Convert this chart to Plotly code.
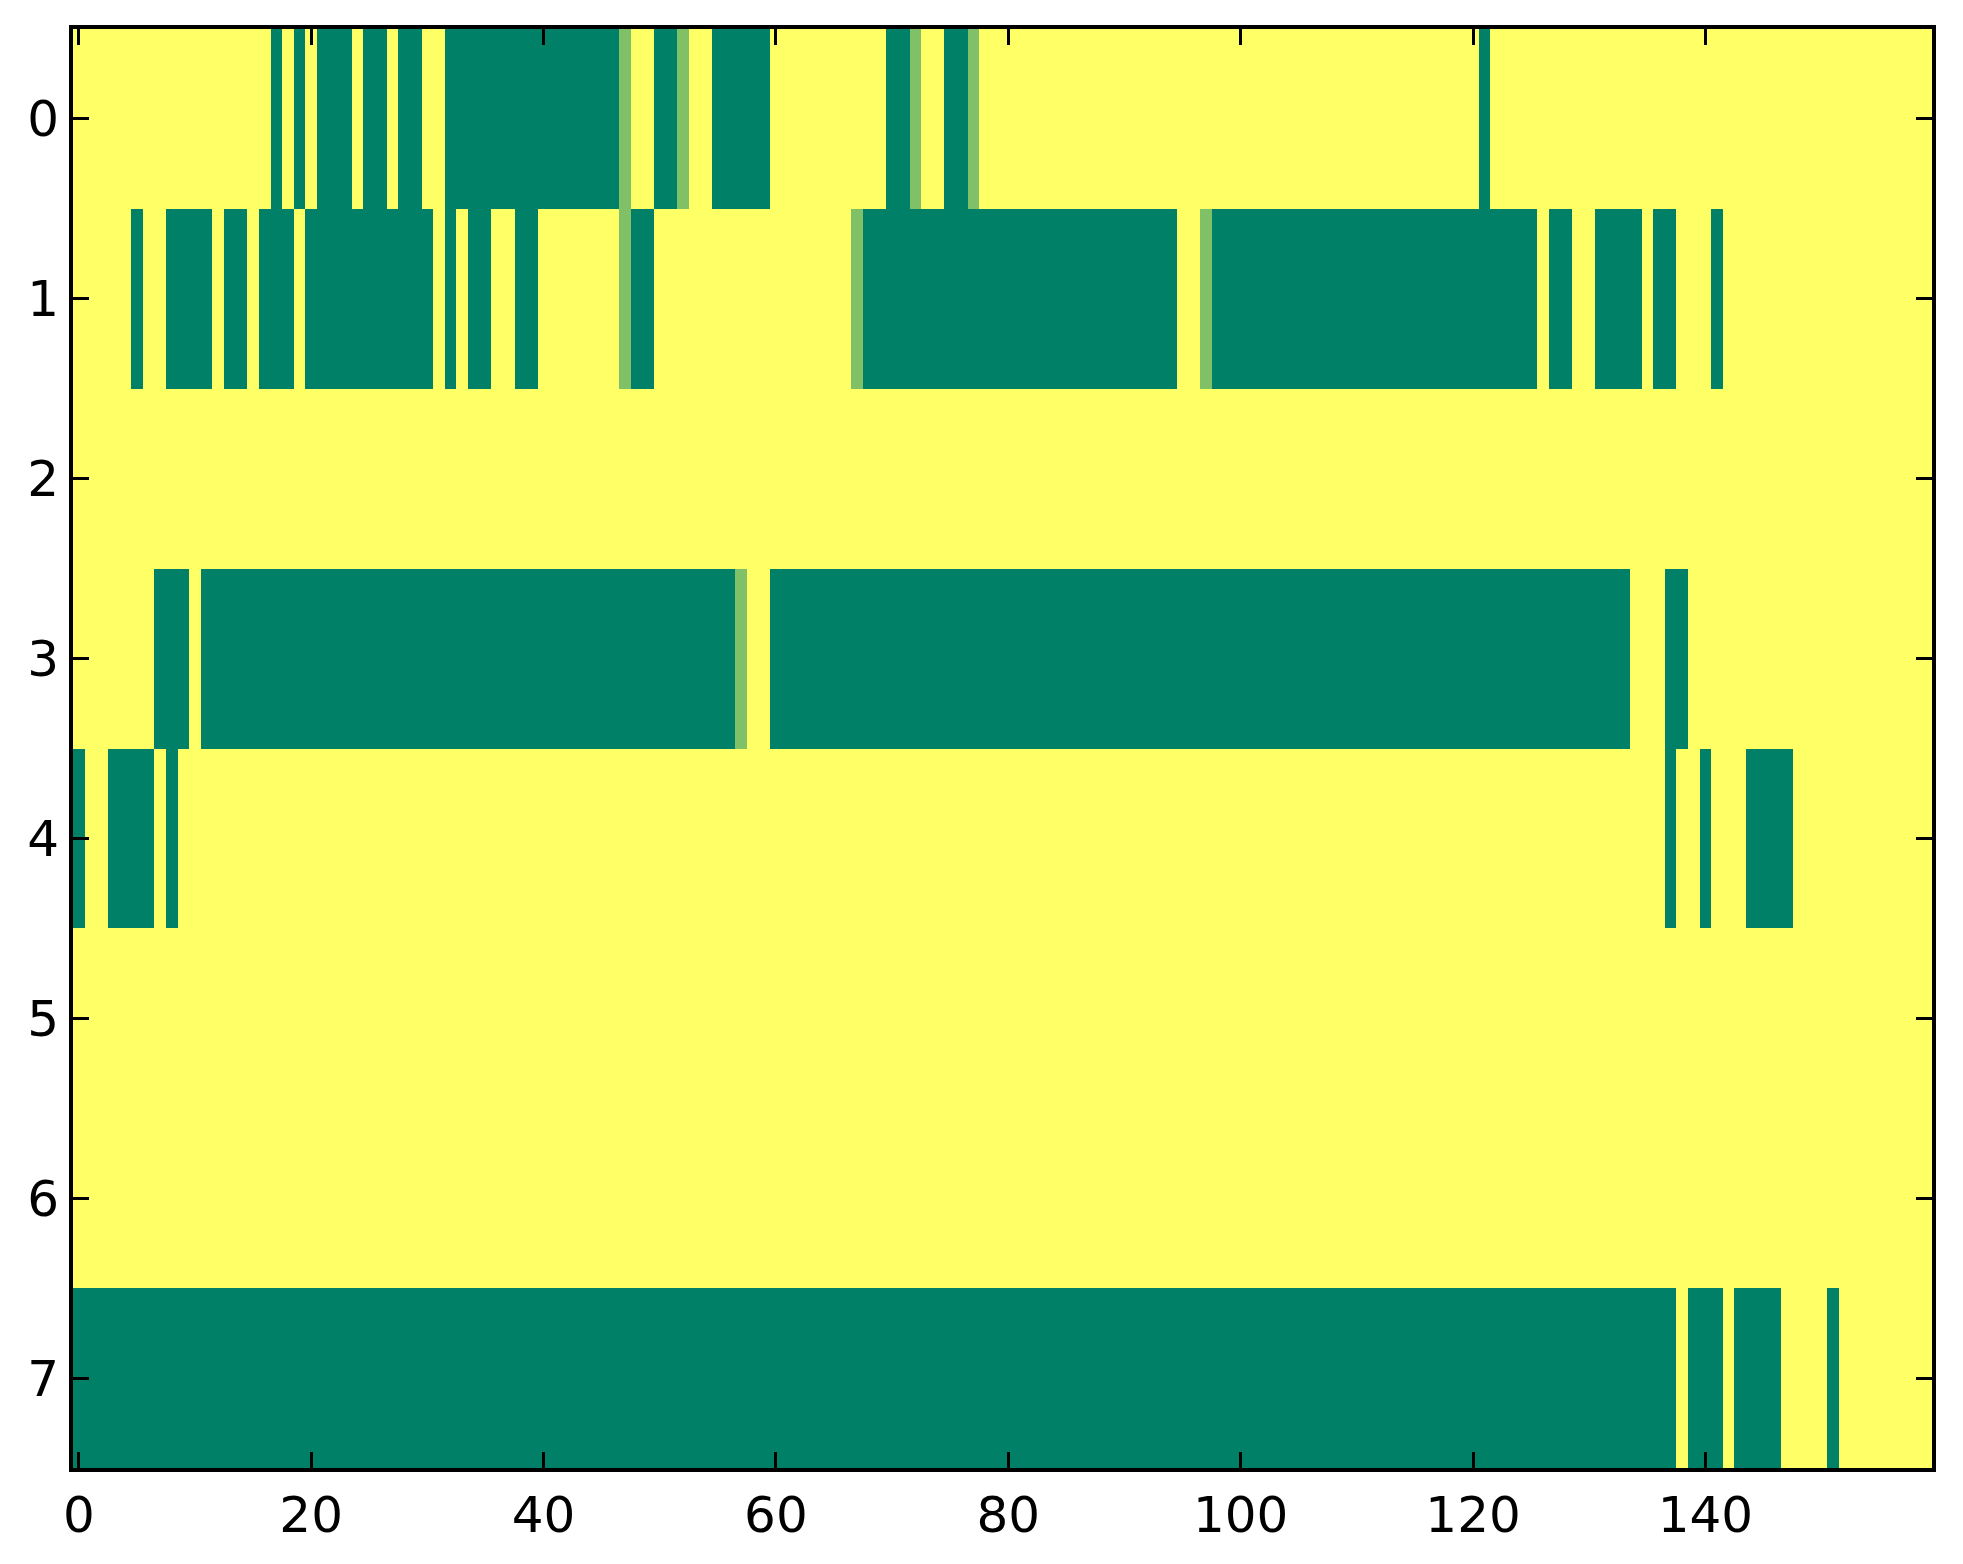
import plotly.graph_objects as go

# cell codes: "0" = green (0.0), "5" = light green (0.5), "1" = yellow (1.0)
# each row is 160 cells, written in groups of 10
row0 = ("1111111111" "1111111010" "1000100100" "1100000000" "0000000511"
        "0051100000" "1111111111" "0051100511" "1111111111" "1111111111"
        "1111111111" "1111111111" "1011111111" "1111111111" "1111111111"
        "1111111111")
row1 = ("1111101100" "0010010001" "0000000000" "0101001100" "1111111500"
        "1111111111" "1111111500" "0000000000" "0000000000" "0000011500"
        "0000000000" "0000000000" "0000001001" "1000010011" "1011111111"
        "1111111111")
row2 = "1" * 160
row3 = ("1111111000" "1000000000" "0000000000" "0000000000" "0000000000"
        "0000000511" "0000000000" "0000000000" "0000000000" "0000000000"
        "0000000000" "0000000000" "0000000000" "0000111001" "1111111111"
        "1111111111")
row4 = ("0110000101" "1111111111" "1111111111" "1111111111" "1111111111"
        "1111111111" "1111111111" "1111111111" "1111111111" "1111111111"
        "1111111111" "1111111111" "1111111111" "1111111011" "0111000011"
        "1111111111")
row5 = "1" * 160
row6 = "1" * 160
row7 = ("0000000000" "0000000000" "0000000000" "0000000000" "0000000000"
        "0000000000" "0000000000" "0000000000" "0000000000" "0000000000"
        "0000000000" "0000000000" "0000000000" "0000000010" "0010000111"
        "1011111111")

rows = [row0, row1, row2, row3, row4, row5, row6, row7]
code = {"0": 0.0, "5": 0.5, "1": 1.0}
z = [[code[ch] for ch in r] for r in rows]

x_cols = list(range(160))
y_rows = list(range(8))
x_ticks = [0, 20, 40, 60, 80, 100, 120, 140]
y_ticks = [0, 1, 2, 3, 4, 5, 6, 7]

# matplotlib "summer" colormap ends
summer = [[0.0, "rgb(0,128,102)"], [1.0, "rgb(255,255,102)"]]

fig = go.Figure()
fig.add_trace(go.Heatmap(z=z, x=x_cols, y=y_rows, colorscale=summer,
                         zmin=0, zmax=1, showscale=False, hoverinfo="skip"))

axis_style = dict(showline=True, linewidth=4, linecolor="black", mirror="ticks",
                  ticks="inside", ticklen=16, tickwidth=2.5, tickcolor="black",
                  showgrid=False, zeroline=False,
                  tickfont=dict(family="DejaVu Sans", size=50, color="black"))

fig.update_xaxes(range=[-0.5, 159.5], tickvals=x_ticks, **axis_style)
fig.update_yaxes(range=[7.5, -0.5], tickvals=y_ticks, **axis_style)

fig.update_layout(width=1963, height=1564,
                  margin=dict(l=73, r=31, t=29, b=96),
                  paper_bgcolor="white", plot_bgcolor="white")

fig.write_html("out.html", config={"displayModeBar": False},
               post_script="document.body.style.margin='0';")
